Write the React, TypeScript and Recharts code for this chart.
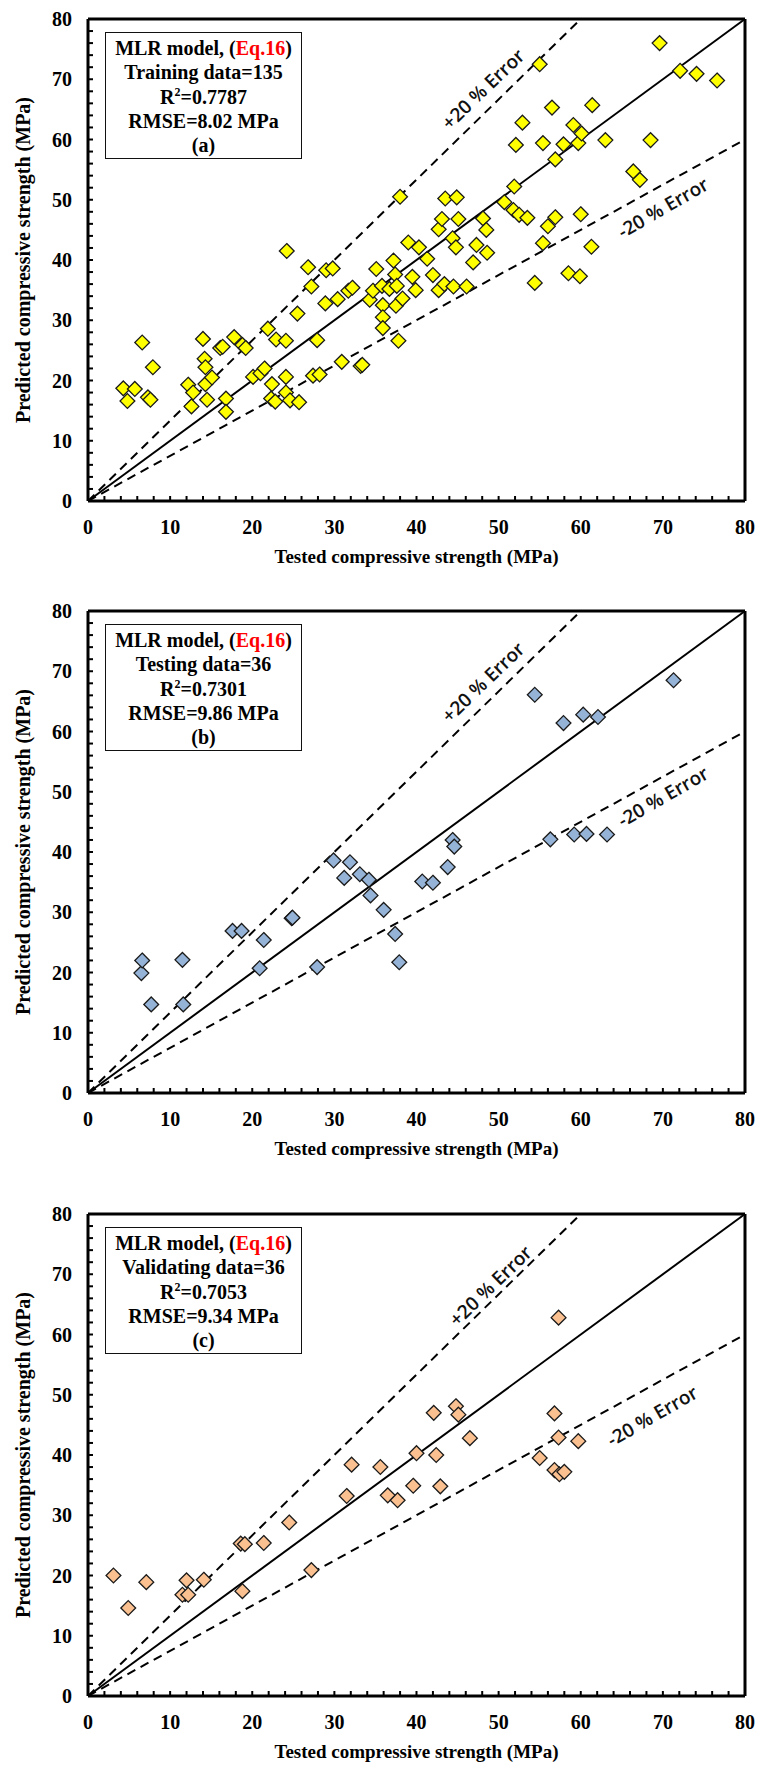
import React from 'react';
import { ScatterChart, Scatter, XAxis, YAxis, ReferenceLine, ReferenceDot } from 'recharts';

type Pt = [number, number];

// [tested, predicted] compressive strength in MPa
const trainingPoints: Pt[] = [
  [4.3, 18.7], [4.8, 16.6], [5.7, 18.6], [6.6, 26.3], [7.3, 17.2], [7.6, 16.8], [7.9, 22.2],
  [12.2, 19.3], [12.8, 18.0], [12.6, 15.7], [14.0, 26.9], [14.2, 23.6], [14.3, 22.2], [14.3, 19.4],
  [14.5, 16.8], [15.1, 20.5], [16.1, 25.4], [16.4, 25.6], [16.8, 17.0], [16.8, 14.8], [17.8, 27.2],
  [18.8, 25.9], [19.2, 25.4], [20.1, 20.6], [21.0, 21.2], [21.5, 22.0], [21.9, 28.6], [22.4, 19.4],
  [22.3, 17.0], [22.8, 16.5], [22.9, 26.8], [24.1, 26.6], [24.1, 20.6], [24.1, 18.0], [24.6, 16.7],
  [25.7, 16.4], [25.5, 31.1], [24.2, 41.5], [26.8, 38.8], [27.2, 35.6], [27.9, 26.7], [27.4, 20.8],
  [28.2, 21.0], [28.9, 32.8], [29.0, 38.3], [29.8, 38.6], [30.4, 33.5], [30.9, 23.1], [31.7, 34.9],
  [32.2, 35.4], [33.2, 22.4], [33.4, 22.6],
  [34.3, 33.4], [34.7, 34.9], [35.1, 38.5], [35.8, 35.7], [35.9, 32.5], [35.9, 30.5], [35.9, 28.7],
  [36.7, 35.2], [37.2, 39.9], [37.4, 37.6], [37.5, 32.4], [37.6, 35.7], [37.8, 26.6], [38.0, 50.5],
  [38.3, 33.6], [39.0, 42.9], [39.5, 37.2], [39.9, 35.0], [40.3, 42.1], [41.3, 40.2], [42.0, 37.5],
  [42.7, 35.0], [42.7, 45.1], [43.1, 46.8], [43.4, 36.0], [43.5, 50.2], [44.4, 43.6], [44.5, 35.6],
  [44.8, 42.1], [44.9, 50.4], [45.1, 46.8], [46.1, 35.6], [46.9, 39.6], [47.3, 42.5], [48.1, 46.9],
  [48.5, 45.0], [48.6, 41.2],
  [50.7, 49.6], [51.8, 48.3], [51.9, 52.2], [52.1, 59.1], [52.5, 47.5], [52.9, 62.8], [53.5, 47.0],
  [54.4, 36.2], [55.0, 72.5], [55.4, 42.8], [55.4, 59.4], [56.0, 45.6], [56.5, 65.3], [56.9, 47.1],
  [56.9, 56.7], [57.9, 59.2], [58.5, 37.8], [59.1, 62.4], [59.7, 59.4], [59.9, 37.3], [60.0, 47.6],
  [60.1, 61.0], [61.3, 42.2], [61.4, 65.7], [63.0, 59.9], [66.4, 54.7], [67.2, 53.3], [68.5, 59.9],
  [69.6, 76.0], [72.1, 71.4], [74.1, 70.9], [76.6, 69.8],
];

const testingPoints: Pt[] = [
  [6.5, 19.9], [6.6, 22.0], [7.7, 14.7], [11.5, 22.1], [11.6, 14.7], [17.6, 26.9], [18.7, 26.9],
  [20.9, 20.7], [21.4, 25.4], [24.8, 29.0], [24.9, 29.1], [27.9, 20.9], [29.9, 38.6], [31.2, 35.7],
  [31.9, 38.3], [33.1, 36.3], [34.2, 35.4], [34.4, 32.8], [36.0, 30.4], [37.4, 26.4], [37.9, 21.7],
  [40.7, 35.1], [42.0, 34.9], [43.8, 37.5], [44.4, 42.0], [44.6, 40.9], [54.4, 66.1], [56.3, 42.1],
  [57.9, 61.4], [59.2, 42.9], [60.3, 62.8], [60.7, 43.0], [62.1, 62.4], [63.2, 42.9], [71.3, 68.5],
];

const validatingPoints: Pt[] = [
  [3.1, 20.0], [4.9, 14.6], [7.1, 18.9], [11.5, 16.8], [12.0, 19.2], [12.2, 16.8], [14.1, 19.3],
  [18.6, 25.3], [19.1, 25.2], [18.8, 17.4], [21.4, 25.4], [24.5, 28.8], [27.2, 20.9], [31.5, 33.2],
  [32.1, 38.4], [35.6, 38.0], [36.5, 33.3], [37.7, 32.5], [39.6, 34.9], [40.0, 40.3], [42.1, 47.0],
  [42.4, 40.0], [42.9, 34.8], [44.8, 48.1], [45.1, 46.7], [46.5, 42.8], [55.0, 39.5], [56.8, 46.9],
  [56.8, 37.5], [57.3, 42.9], [57.3, 62.8], [57.4, 36.8], [58.0, 37.2], [59.7, 42.3],
];

const axisTicks = [
  0, 2, 4, 6, 8, 10, 12, 14, 16, 18, 20, 22, 24, 26, 28, 30, 32, 34, 36, 38, 40,
  42, 44, 46, 48, 50, 52, 54, 56, 58, 60, 62, 64, 66, 68, 70, 72, 74, 76, 78, 80,
];
const labelledTicks = [0, 10, 20, 30, 40, 50, 60, 70, 80];

const SERIF = "'Liberation Serif', 'Times New Roman', serif";
const SANS = "'Open Sans', 'Noto Sans', sans-serif";

interface PanelConfig {
  id: string;
  top: number;
  height: number;
  points: Pt[];
  fill: string;
  countLine: string;
  r2: string;
  rmse: string;
  tag: string;
  upperLabel: { x: number; y: number };
  lowerLabel: { x: number; y: number };
}

const panels: PanelConfig[] = [
  {
    id: 'a', top: 0, height: 590, points: trainingPoints, fill: '#FFFF00',
    countLine: 'Training data=135', r2: '0.7787', rmse: '8.02', tag: '(a)',
    upperLabel: { x: 48.1, y: 68.4 }, lowerLabel: { x: 70.0, y: 48.7 },
  },
  {
    id: 'b', top: 592, height: 590, points: testingPoints, fill: '#95B3D7',
    countLine: 'Testing data=36', r2: '0.7301', rmse: '9.86', tag: '(b)',
    upperLabel: { x: 48.1, y: 68.2 }, lowerLabel: { x: 70.0, y: 49.2 },
  },
  {
    id: 'c', top: 1195, height: 570, points: validatingPoints, fill: '#FAC090',
    countLine: 'Validating data=36', r2: '0.7053', rmse: '9.34', tag: '(c)',
    upperLabel: { x: 49.0, y: 68.1 }, lowerLabel: { x: 68.7, y: 46.5 },
  },
];

const XTick = (props: any) => {
  const { x, y, payload } = props;
  const v = payload.value;
  return (
    <g>
      <line x1={x} y1={y} x2={x} y2={y - 5} stroke="#000" strokeWidth={2} />
      {labelledTicks.includes(v) && (
        <text x={x} y={y + 33} textAnchor="middle" fontFamily={SERIF} fontWeight="bold" fontSize={20} fill="#000">
          {v}
        </text>
      )}
    </g>
  );
};

const YTick = (props: any) => {
  const { x, y, payload } = props;
  const v = payload.value;
  return (
    <g>
      <line x1={x} y1={y} x2={x + 5} y2={y} stroke="#000" strokeWidth={2} />
      {labelledTicks.includes(v) && (
        <text x={x - 16} y={y + 7} textAnchor="end" fontFamily={SERIF} fontWeight="bold" fontSize={20} fill="#000">
          {v}
        </text>
      )}
    </g>
  );
};

const xTitle = (props: any) => {
  const vb = props.viewBox;
  return (
    <text x={vb.x + vb.width / 2} y={vb.y + 62} textAnchor="middle" fontFamily={SERIF} fontWeight="bold" fontSize={19} fill="#000">
      Tested compressive strength (MPa)
    </text>
  );
};

const yTitle = (props: any) => {
  const vb = props.viewBox;
  const cx = vb.x + 2;
  const cy = vb.y + vb.height / 2;
  return (
    <text x={cx} y={cy} transform={`rotate(-90 ${cx} ${cy})`} textAnchor="middle" fontFamily={SERIF} fontWeight="bold" fontSize={20} fill="#000">
      Predicted compressive strength (MPa)
    </text>
  );
};

const errorLabel = (text: string, angle: number) => (props: any) => {
  const vb = props.viewBox;
  const cx = vb.x + (vb.width || 0) / 2;
  const cy = vb.y + (vb.height || 0) / 2;
  return (
    <text x={cx} y={cy} transform={`rotate(${angle} ${cx} ${cy})`} textAnchor="middle" dominantBaseline="central" fontFamily={SANS} fontWeight={600} fontSize={19} fill="#111">
      {text}
    </text>
  );
};

const diamondShape = (fill: string) => (props: any) => {
  const { cx, cy } = props;
  if (cx == null || cy == null) return <g />;
  const h = 7.4;
  return (
    <path
      d={`M${cx},${cy - h}L${cx + h},${cy}L${cx},${cy + h}L${cx - h},${cy}Z`}
      fill={fill}
      stroke="#1a1a1a"
      strokeWidth={1.3}
    />
  );
};

const Panel = ({ cfg }: { cfg: PanelConfig }) => {
  const data = cfg.points.map(([tested, predicted]) => ({ tested, predicted }));
  const plotTop = 19;
  const plotHeight = 482;
  const xAxisHeight = 60;
  return (
    <div style={{ position: 'absolute', left: 0, top: cfg.top, width: 773, height: cfg.height }}>
      <ScatterChart
        width={773}
        height={cfg.height}
        margin={{ top: plotTop, right: 28, bottom: cfg.height - plotTop - plotHeight - xAxisHeight, left: 28 }}
      >
        <XAxis
          type="number"
          dataKey="tested"
          domain={[0, 80]}
          ticks={axisTicks}
          interval={0}
          tickSize={0}
          tickMargin={0}
          tickLine={false}
          tick={<XTick />}
          axisLine={{ stroke: '#000', strokeWidth: 3 }}
          height={xAxisHeight}
          allowDataOverflow
          label={xTitle}
        />
        <YAxis
          type="number"
          dataKey="predicted"
          domain={[0, 80]}
          ticks={axisTicks}
          interval={0}
          tickSize={0}
          tickMargin={0}
          tickLine={false}
          tick={<YTick />}
          axisLine={{ stroke: '#000', strokeWidth: 3 }}
          width={60}
          allowDataOverflow
          label={yTitle}
        />
        <ReferenceLine y={80} stroke="#000" strokeWidth={3} ifOverflow="visible" />
        <ReferenceLine x={80} stroke="#000" strokeWidth={3} ifOverflow="visible" />
        <ReferenceLine segment={[{ x: 0, y: 0 }, { x: 80, y: 80 }]} stroke="#000" strokeWidth={2} ifOverflow="visible" />
        <ReferenceLine segment={[{ x: 0, y: 0 }, { x: 60, y: 80 }]} stroke="#000" strokeWidth={2} strokeDasharray="9 6" ifOverflow="visible" />
        <ReferenceLine segment={[{ x: 0, y: 0 }, { x: 80, y: 60 }]} stroke="#000" strokeWidth={2} strokeDasharray="9 6" ifOverflow="visible" />
        <ReferenceDot x={cfg.upperLabel.x} y={cfg.upperLabel.y} r={0} fill="none" stroke="none" label={errorLabel('+20 % Error', -44)} />
        <ReferenceDot x={cfg.lowerLabel.x} y={cfg.lowerLabel.y} r={0} fill="none" stroke="none" label={errorLabel('-20 % Error', -30)} />
        <Scatter data={data} shape={diamondShape(cfg.fill)} isAnimationActive={false} />
      </ScatterChart>
      <div
        style={{
          position: 'absolute',
          left: 105,
          top: 32,
          width: 197,
          height: 127,
          boxSizing: 'border-box',
          border: '1.5px solid #111',
          background: '#fff',
          fontFamily: SERIF,
          fontWeight: 'bold',
          fontSize: 20,
          lineHeight: '24.3px',
          textAlign: 'center',
          paddingTop: 3,
          color: '#000',
        }}
      >
        <div>
          MLR model, (<span style={{ color: '#FF0000' }}>Eq.16</span>)
        </div>
        <div>{cfg.countLine}</div>
        <div>
          R<sup style={{ fontSize: '0.6em', lineHeight: 0 }}>2</sup>={cfg.r2}
        </div>
        <div>RMSE={cfg.rmse} MPa</div>
        <div>{cfg.tag}</div>
      </div>
    </div>
  );
};

export default function App() {
  return (
    <div style={{ position: 'absolute', left: 0, top: 0, width: 773, height: 1765, background: '#fff', overflow: 'hidden' }}>
      {panels.map((p) => (
        <Panel key={p.id} cfg={p} />
      ))}
    </div>
  );
}
